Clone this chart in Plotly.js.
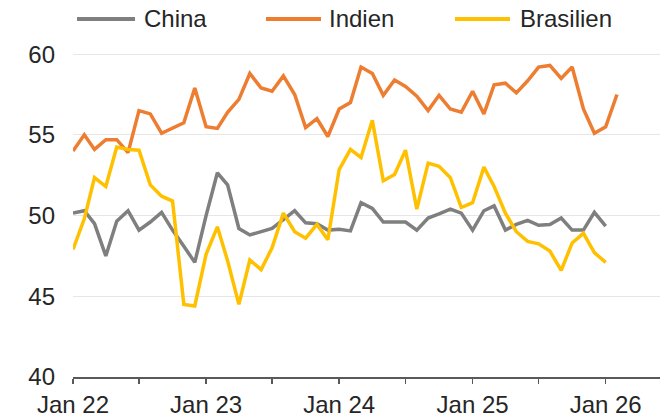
<!DOCTYPE html>
<html>
<head>
<meta charset="utf-8">
<script src="https://cdn.plot.ly/plotly-3.0.1.min.js"></script>
<style>html,body{margin:0;padding:0;background:#fff;}#chart{width:669px;height:420px;}</style>
</head>
<body>
<div id="chart"></div>
<script>
// Months (Jan 22 – Feb 26)
const months = [
  "2022-01","2022-02","2022-03","2022-04","2022-05","2022-06","2022-07","2022-08","2022-09","2022-10","2022-11","2022-12",
  "2023-01","2023-02","2023-03","2023-04","2023-05","2023-06","2023-07","2023-08","2023-09","2023-10","2023-11","2023-12",
  "2024-01","2024-02","2024-03","2024-04","2024-05","2024-06","2024-07","2024-08","2024-09","2024-10","2024-11","2024-12",
  "2025-01","2025-02","2025-03","2025-04","2025-05","2025-06","2025-07","2025-08","2025-09","2025-10","2025-11","2025-12",
  "2026-01","2026-02"
];

const seriesNames = ["China", "Indien", "Brasilien"];

const china = [
  50.15, 50.3, 49.5, 47.5, 49.65, 50.3, 49.1, 49.6, 50.2, 49.1, 48.1, 47.1,
  50.0, 52.65, 51.9, 49.2, 48.8, 49.0, 49.2, 49.75, 50.3, 49.55, 49.5, 49.1,
  49.15, 49.05, 50.8, 50.45, 49.6, 49.6, 49.6, 49.1, 49.85, 50.1, 50.4, 50.15,
  49.1, 50.3, 50.6, 49.1, 49.45, 49.7, 49.4, 49.45, 49.85, 49.1, 49.1, 50.2,
  49.35
];

const indien = [
  54.0, 55.0, 54.1, 54.7, 54.7, 53.9, 56.5, 56.3, 55.1, 55.4, 55.75, 57.9,
  55.5, 55.4, 56.4, 57.2, 58.8, 57.9, 57.7, 58.65, 57.5, 55.45, 56.0, 54.9,
  56.6, 57.0, 59.2, 58.8, 57.45, 58.4, 58.0, 57.4, 56.5, 57.45, 56.6, 56.4,
  57.7, 56.3, 58.1, 58.2, 57.6, 58.35, 59.2, 59.3, 58.5, 59.2, 56.6, 55.1,
  55.5, 57.5
];

const brasilien = [
  47.9, 49.8, 52.35, 51.8, 54.25, 54.1, 54.05, 51.9, 51.2, 50.9, 44.5, 44.4,
  47.6, 49.3, 47.2, 44.5, 47.25, 46.65, 48.0, 50.15, 49.0, 48.6, 49.45, 48.5,
  52.85, 54.1, 53.6, 55.9, 52.15, 52.55, 54.05, 50.4, 53.25, 53.05, 52.35, 50.5,
  50.8, 53.0, 51.8, 50.15, 49.0, 48.4, 48.25, 47.8, 46.6, 48.3, 48.9, 47.7,
  47.1
];

const yTicks = [40, 45, 50, 55, 60];
const colors = ["#7f7f7f", "#ed7d31", "#ffc000"];
const seriesValues = [china, indien, brasilien];

const FONT = "Liberation Sans, Arial, sans-serif";
const TEXT = "#262626";

const traces = seriesValues.map((vals, k) => ({
  type: "scatter",
  mode: "lines",
  name: seriesNames[k],
  x: months.slice(0, vals.length),
  y: vals,
  line: {color: colors[k], width: 3.5},
  hoverinfo: "x+y+name"
}));

// Custom legend (long line samples like the original)
const L = 73, W = 587, T = 38, H = 339;
const px = v => (v - L) / W;
const py = v => (T + H - v) / H;
const legendPos = [[77, 135, 142], [266, 321, 327], [455, 510, 518]];
const legendY = 19;
const shapes = legendPos.map((p, k) => ({
  type: "line", xref: "paper", yref: "paper",
  x0: px(p[0]), x1: px(p[1]), y0: py(legendY), y1: py(legendY),
  line: {color: colors[k], width: 4}
}));
const annotations = legendPos.map((p, k) => ({
  xref: "paper", yref: "paper", x: px(p[2]), y: py(legendY),
  xanchor: "left", yanchor: "middle", showarrow: false,
  text: seriesNames[k], font: {family: FONT, size: 24, color: TEXT}
}));

const layout = {
  width: 669, height: 420,
  margin: {l: L, r: 669 - L - W, t: T, b: 420 - T - H},
  paper_bgcolor: "#ffffff", plot_bgcolor: "#ffffff",
  showlegend: false,
  font: {family: FONT, size: 24, color: TEXT},
  xaxis: {
    type: "date",
    range: ["2022-01-01", "2026-05-30"],
    tick0: "2022-01-01", dtick: "M12", tickformat: "%b %y",
    ticks: "outside", ticklen: 5, tickwidth: 1.5, tickcolor: "#595959",
    minor: {tick0: "2022-01-01", dtick: "M6", ticks: "outside", ticklen: 5, tickwidth: 1.5, tickcolor: "#595959", showgrid: false},
    showline: true, linecolor: "#595959", linewidth: 2,
    showgrid: false, zeroline: false,
    tickfont: {family: FONT, size: 24, color: TEXT},
    fixedrange: true
  },
  yaxis: {
    range: [40, 61],
    tickvals: yTicks, ticktext: yTicks.map(String),
    showgrid: true, gridcolor: "#e6e6e6", gridwidth: 1,
    showline: false, zeroline: false, ticks: "",
    ticklabelstandoff: 17,
    tickfont: {family: FONT, size: 24, color: TEXT},
    fixedrange: true
  },
  shapes: shapes,
  annotations: annotations
};

Plotly.newPlot("chart", traces, layout, {displayModeBar: false, staticPlot: true});
</script>
</body>
</html>
